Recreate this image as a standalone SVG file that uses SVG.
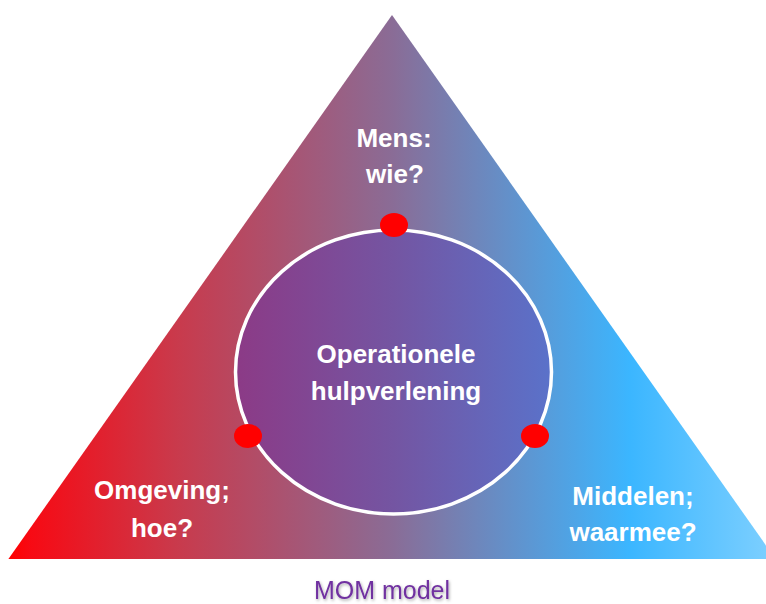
<svg xmlns="http://www.w3.org/2000/svg" width="766" height="604" viewBox="0 0 766 604">
  <defs>
    <linearGradient id="triGrad" gradientUnits="userSpaceOnUse" x1="8" y1="0" x2="776" y2="0">
      <stop offset="0" stop-color="#ff0000"/>
      <stop offset="0.03" stop-color="#f70a14"/>
      <stop offset="0.22" stop-color="#c93a4c"/>
      <stop offset="0.5" stop-color="#8a6c96"/>
      <stop offset="0.81" stop-color="#3bb6ff"/>
      <stop offset="1" stop-color="#7fd0ff"/>
    </linearGradient>
    <linearGradient id="circGrad" gradientUnits="userSpaceOnUse" x1="235" y1="0" x2="552" y2="0">
      <stop offset="0" stop-color="#8c3a86"/>
      <stop offset="0.5" stop-color="#7455a2"/>
      <stop offset="1" stop-color="#5a72ca"/>
    </linearGradient>
    <filter id="shadow" x="-20%" y="-40%" width="140%" height="180%">
      <feDropShadow dx="1" dy="1.5" stdDeviation="1.5" flood-color="#000000" flood-opacity="0.35"/>
    </filter>
  </defs>
  <style>
    .lbl { font-family: "Liberation Sans", Arial, sans-serif; font-weight: bold; font-size: 26px; fill: #ffffff; text-anchor: middle; }
    .dot { fill: #ff0000; }
    .cap { font-family: "Liberation Sans", Arial, sans-serif; font-size: 25px; fill: #7030a0; text-anchor: middle; }
  </style>
  <rect width="766" height="604" fill="#ffffff"/>
  <g id="triangle">
    <polygon points="392,15 8.4,559 775.6,559" fill="url(#triGrad)"/>
  </g>
  <g id="center">
    <ellipse cx="393.5" cy="372" rx="158" ry="142" fill="url(#circGrad)" stroke="#ffffff" stroke-width="3.5"/>
    <text class="lbl" x="396" y="363">Operationele</text>
    <text class="lbl" x="396" y="400">hulpverlening</text>
  </g>
  <g id="connectors">
    <ellipse class="dot" cx="394" cy="225" rx="14" ry="12"/>
    <ellipse class="dot" cx="248" cy="436" rx="14" ry="12"/>
    <ellipse class="dot" cx="535" cy="436" rx="14" ry="12"/>
  </g>
  <g id="mens">
    <text class="lbl" x="394" y="147">Mens:</text>
    <text class="lbl" x="395" y="183">wie?</text>
  </g>
  <g id="omgeving">
    <text class="lbl" x="162" y="499">Omgeving;</text>
    <text class="lbl" x="162" y="537">hoe?</text>
  </g>
  <g id="middelen">
    <text class="lbl" x="633" y="505">Middelen;</text>
    <text class="lbl" x="633" y="541">waarmee?</text>
  </g>
  <g id="caption">
    <text class="cap" x="382" y="599" filter="url(#shadow)">MOM model</text>
  </g>
</svg>
